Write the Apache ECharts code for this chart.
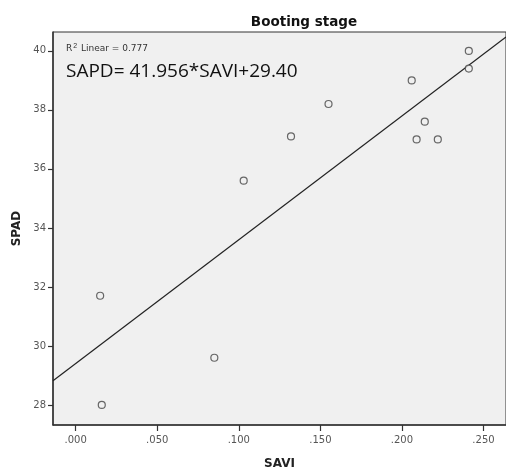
<!DOCTYPE html>
<html>
<head>
<meta charset="utf-8">
<script src="https://cdn.jsdelivr.net/npm/echarts@6/dist/echarts.min.js"></script>
<style>
  html, body { margin: 0; padding: 0; background: #fff; }
  #chart { width: 506px; height: 475px; }
</style>
</head>
<body>
<div id="chart"></div>
<script>
// SAVI vs SPAD, booting stage
const savi = [0.015, 0.016, 0.085, 0.103, 0.132, 0.155, 0.206, 0.209, 0.214, 0.222, 0.241, 0.241];
const spad = [31.7, 28.0, 29.6, 35.6, 37.1, 38.2, 39.0, 37.0, 37.6, 37.0, 40.0, 39.4];
const xTicks = [0, 0.05, 0.1, 0.15, 0.2, 0.25];
const yTicks = [28, 30, 32, 34, 36, 38, 40];
const fitSlope = 41.956;
const fitIntercept = 29.40;

const xMin = -0.0139, xMax = 0.2638;
const yMin = 27.32, yMax = 40.64;

const points = savi.map((x, i) => [x, spad[i]]);
const fitLine = [xMin, xMax].map((x) => [x, fitSlope * x + fitIntercept]);

const chart = echarts.init(document.getElementById("chart"), null, { renderer: "canvas" });

const tickFont = { color: "#555", fontSize: 10, fontFamily: "DejaVu Sans" };
const axisName = { fontSize: 12, fontWeight: "bold", color: "#222", fontFamily: "DejaVu Sans" };

chart.setOption({
  animation: false,
  backgroundColor: "#fff",
  title: {
    text: "Booting stage",
    left: 299,
    top: 10,
    textAlign: "center",
    textStyle: { fontSize: 13.5, fontWeight: "bold", color: "#111", fontFamily: "DejaVu Sans" },
  },
  grid: {
    left: 53, right: 0, top: 32, bottom: 47,
    show: true,
    backgroundColor: "#f0f0f0",
    borderColor: "#333",
    borderWidth: 1,
  },
  xAxis: {
    type: "value",
    min: xMin,
    max: xMax,
    name: "SAVI",
    nameLocation: "middle",
    nameGap: 33,
    nameTextStyle: axisName,
    splitLine: { show: false },
    axisLine: { show: true, onZero: false, lineStyle: { color: "#333", width: 1.5 } },
    axisTick: { show: true, inside: false, length: 6, customValues: xTicks, lineStyle: { color: "#333", width: 1.2 } },
    axisLabel: {
      ...tickFont,
      margin: 10,
      customValues: xTicks,
      formatter: (v) => v.toFixed(3).replace(/^0/, ""),
    },
  },
  yAxis: {
    type: "value",
    min: yMin,
    max: yMax,
    name: "SPAD",
    nameLocation: "middle",
    nameGap: 27,
    nameRotate: 90,
    nameTextStyle: axisName,
    splitLine: { show: false },
    axisLine: { show: true, onZero: false, lineStyle: { color: "#333", width: 1.5 } },
    axisTick: { show: true, inside: false, length: 5, customValues: yTicks, lineStyle: { color: "#333", width: 1.2 } },
    axisLabel: { ...tickFont, margin: 7, customValues: yTicks },
  },
  graphic: [
    {
      type: "text",
      left: 66,
      top: 43,
      style: {
        text: "R{sup|2} Linear = 0.777",
        fontSize: 9,
        fill: "#333",
        fontFamily: "DejaVu Sans",
        rich: { sup: { fontSize: 7, verticalAlign: "top", padding: [0, 1, 4, 1], fill: "#333" } },
      },
    },
    {
      type: "text",
      left: 66,
      top: 62,
      style: { text: "SAPD= 41.956*SAVI+29.40", fontSize: 19, fill: "#111", fontFamily: "Open Sans" },
    },
  ],
  series: [
    {
      type: "line",
      data: fitLine,
      symbol: "none",
      lineStyle: { color: "#222", width: 1.2 },
      silent: true,
      z: 2,
    },
    {
      type: "scatter",
      data: points,
      symbol: "circle",
      symbolSize: 7,
      itemStyle: { color: "#f0f0f0", borderColor: "#444", borderWidth: 1.2 },
      z: 3,
    },
  ],
});

window.addEventListener("resize", () => chart.resize());
</script>
</body>
</html>
